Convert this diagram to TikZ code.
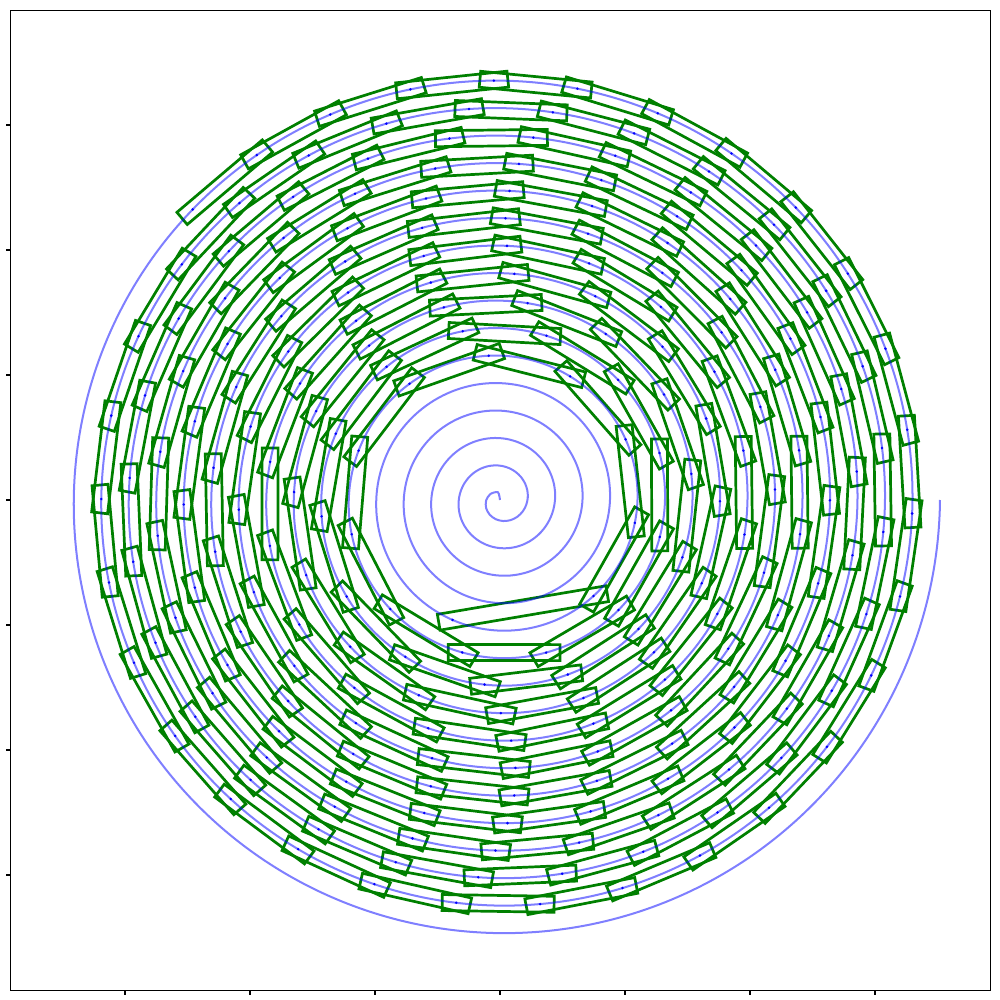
\documentclass[tikz,border=0pt]{standalone}
\usetikzlibrary{calc}
\definecolor{mplgreen}{HTML}{008000}
\definecolor{mplblue}{HTML}{0000FF}
\pgfdeclarelayer{links}
\pgfdeclarelayer{dots}
\pgfsetlayers{links,main,dots}
\tikzset{
  axframe/.style={line width=0.31pt, black},
  axtick/.style={line width=0.31pt, black},
  spiralline/.style={line width=0.57pt, mplblue, opacity=0.5},
  linkbox/.style={line width=0.77pt, mplgreen, line join=miter},
  dotmark/.style={fill=mplblue, draw=none},
}
\def\bsp{4.37676}
\def\chord{83.92}
\newcommand\spiralxy[1]{%
  \pgfmathsetmacro\sx{\bsp*(#1)*cos((#1) r)}%
  \pgfmathsetmacro\sy{\bsp*(#1)*sin((#1) r)}}
\newcommand\drawlink[4]{%
  \pgfmathsetmacro\ldx{#3-#1}%
  \pgfmathsetmacro\ldy{#4-#2}%
  \pgfmathsetmacro\lang{atan2(\ldy,\ldx)}%
  \pgfmathsetmacro\llen{veclen(\ldx,\ldy)}%
  \begin{pgfonlayer}{links}
  \draw[linkbox, shift={(#1,#2)}, rotate=\lang] (-14,-8) rectangle ({\llen+14},8);
  \end{pgfonlayer}}
\newcommand\drawdot[2]{%
  \begin{pgfonlayer}{dots}
  \fill[dotmark] (#1,#2) circle (1.4);
  \end{pgfonlayer}}
\begin{document}
\begin{tikzpicture}[x=0.01cm,y=0.01cm]
\useasboundingbox (-500,-500) rectangle (500,500);
% axes frame and ticks
\draw[axframe] (-489.5,-490.3) rectangle (490.5,489.3);
\foreach \t in {-375,-250,-125,0,125,250,375} {
  \draw[axtick] (\t,-490.3) -- (\t,-495.2);
  \draw[axtick] (-489.5,\t) -- (-494.4,\t);
}
% blue spiral (uniform arc length sampling via t = theta^2)
\draw[spiralline] plot[domain=0:10106.5, samples=3000, smooth, variable=\u]
  ({\bsp*sqrt(\u)*cos(sqrt(\u) r)}, {\bsp*sqrt(\u)*sin(sqrt(\u) r)});
% chain of links
\spiralxy{29.468}\xdef\ax{\sx}\xdef\ay{\sy}
\xdef\thcur{30.617}
\spiralxy{\thcur}\xdef\cx{\sx}\xdef\cy{\sy}
\drawlink{\ax}{\ay}{\cx}{\cy}
\drawdot{\ax}{\ay}
\drawdot{\cx}{\cy}
\foreach \i in {1,...,218} {
  \pgfmathsetmacro\dl{\chord/(\bsp*\thcur)}
  \pgfmathsetmacro\tn{\thcur+\dl}\spiralxy{\tn}
  \pgfmathsetmacro\ch{veclen(\sx-\cx,\sy-\cy)}
  \pgfmathsetmacro\dl{\dl*\chord/\ch}
  \pgfmathsetmacro\tn{\thcur+\dl}\spiralxy{\tn}
  \pgfmathsetmacro\ch{veclen(\sx-\cx,\sy-\cy)}
  \pgfmathsetmacro\dl{\dl*\chord/\ch}
  \pgfmathsetmacro\tn{\thcur+\dl}\spiralxy{\tn}
  \pgfmathsetmacro\ch{veclen(\sx-\cx,\sy-\cy)}
  \pgfmathsetmacro\dl{\dl*\chord/\ch}
  \pgfmathsetmacro\tn{\thcur+\dl}\spiralxy{\tn}
  \drawlink{\cx}{\cy}{\sx}{\sy}
  \drawdot{\sx}{\sy}
  \xdef\thcur{\tn}\xdef\cx{\sx}\xdef\cy{\sy}
}
\end{tikzpicture}
\end{document}
